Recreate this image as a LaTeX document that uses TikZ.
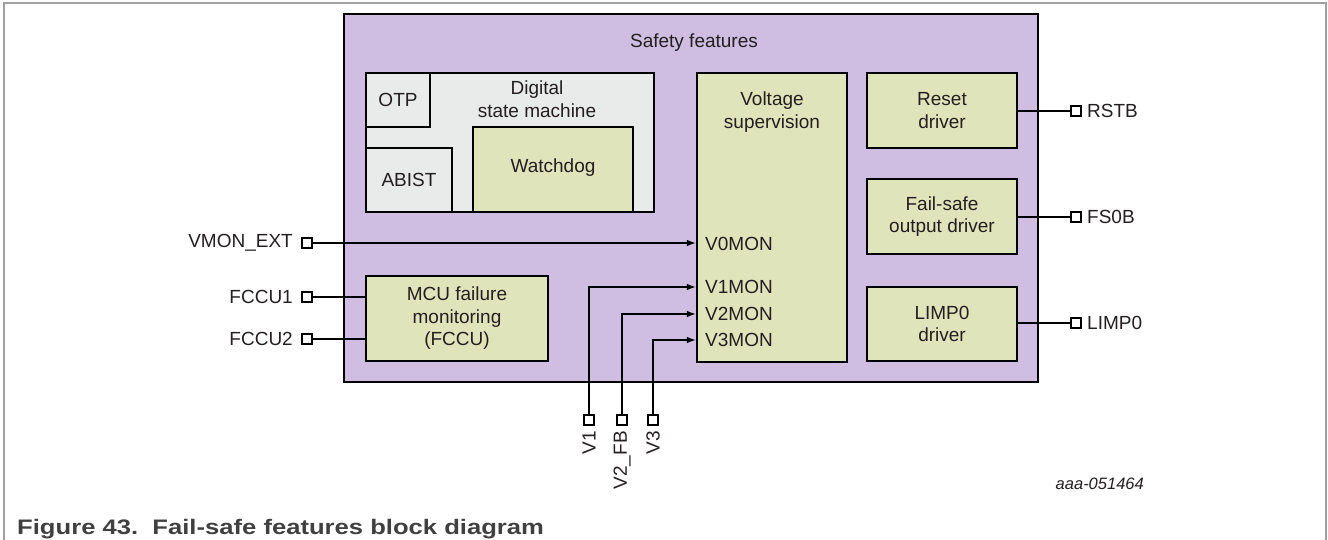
\documentclass[tikz,border=0pt]{standalone}
\usepackage{fontspec}
\setmainfont{Liberation Sans}
\usetikzlibrary{arrows.meta}
\definecolor{sfpurple}{RGB}{207,190,226}
\definecolor{sfgreen}{RGB}{224,228,187}
\definecolor{sfgray}{RGB}{233,234,234}
\definecolor{sftext}{RGB}{35,31,32}
\definecolor{sfframe}{RGB}{160,160,160}
\definecolor{sfcap}{RGB}{64,64,64}
\begin{document}
\begin{tikzpicture}[x=1pt,y=-1pt,
  every node/.style={text=sftext, font=\fontsize{19}{22.5}\selectfont},
  blk/.style={draw=black, line width=2.2pt, inner sep=0pt, align=center},
  greenblk/.style={blk, fill=sfgreen},
  grayblk/.style={blk, fill=sfgray},
  pin/.style={draw=black, fill=white, line width=1.1pt, minimum size=10pt, inner sep=0pt},
  wire/.style={draw=black, line width=1.3pt},
  arr/.style={wire, -{Latex[length=9pt,width=6.5pt]}},
  lbl/.style={inner sep=0pt}
]
\useasboundingbox (0,0) rectangle (1328,540);
% outer frame
\draw[sfframe, line width=1.8pt] (4,540) -- (4,3) -- (1326,3) -- (1326,540);

% main box
\node[blk, line width=2.5pt, fill=sfpurple, minimum width=694pt, minimum height=368pt] (main) at (691,198) {};
\node[lbl] (title) at (694,43) {Safety features};

% digital state machine
\node[grayblk, minimum width=288pt, minimum height=139pt] (dsm) at (510,142.5) {};
\node[lbl, align=center] (dsmtxt) at (537,99) {Digital\\state machine};
\node[grayblk, minimum width=64pt, minimum height=54pt] (otp) at (398,100) {OTP};
\node[grayblk, minimum width=86pt, minimum height=64pt] (abist) at (409,180) {ABIST};
\node[greenblk, minimum width=160pt, minimum height=85pt, text depth=0pt] (wd) at (553,169.5) {};
\node[lbl] (wdtxt) at (553,168) {Watchdog};

% voltage supervision
\node[greenblk, minimum width=150pt, minimum height=289pt] (vs) at (772,217.5) {};
\node[lbl, align=center] (vstxt) at (772,112) {Voltage\\supervision};
\node[lbl, anchor=west] (v0) at (705,244) {V0MON};
\node[lbl, anchor=west] (v1) at (705,287) {V1MON};
\node[lbl, anchor=west] (v2) at (705,314) {V2MON};
\node[lbl, anchor=west] (v3) at (705,340) {V3MON};

% drivers
\node[greenblk, minimum width=150pt, minimum height=75pt] (rst) at (942,110.5) {Reset\\driver};
\node[greenblk, minimum width=150pt, minimum height=75pt] (fs) at (942,216.5) {Fail-safe\\output driver};
\node[greenblk, minimum width=150pt, minimum height=74pt] (limp) at (942,324) {LIMP0\\driver};

% MCU failure monitoring
\node[greenblk, minimum width=182pt, minimum height=85pt] (mcu) at (457,318.5) {MCU failure\\monitoring\\(FCCU)};

% left pins
\node[pin] (pvmon) at (307,243) {};
\node[pin] (pf1) at (307,297) {};
\node[pin] (pf2) at (307,339) {};
\node[lbl, anchor=east] (lvmon) at (293,243) {VMON\_EXT};
\node[lbl, anchor=east] (lf1) at (293,297) {FCCU1};
\node[lbl, anchor=east] (lf2) at (293,339) {FCCU2};

% right pins
\node[pin] (prst) at (1076,111) {};
\node[pin] (pfs) at (1076,217) {};
\node[pin] (plimp) at (1076,323) {};
\node[lbl, anchor=west] (lrst) at (1087,111) {RSTB};
\node[lbl, anchor=west] (lfs) at (1087,217) {FS0B};
\node[lbl, anchor=west] (llimp) at (1087,323) {LIMP0};

% bottom pins
\node[pin] (pv1) at (589,420) {};
\node[pin] (pv2) at (622,420) {};
\node[pin] (pv3) at (653,420) {};
\node[lbl, anchor=east, rotate=90] (lv1) at (589,431) {V1};
\node[lbl, anchor=east, rotate=90] (lv2) at (622,431) {V2\_FB};
\node[lbl, anchor=east, rotate=90] (lv3) at (653,431) {V3};

% connectors
\draw[arr] (pvmon.east) -- (pvmon.east -| vs.west);
\draw[arr] (pv1.north) |- (v1.west -| vs.west);
\draw[arr] (pv2.north) |- (v2.west -| vs.west);
\draw[arr] (pv3.north) |- (v3.west -| vs.west);
\draw[wire] (pf1.east) -- (pf1.east -| mcu.west);
\draw[wire] (pf2.east) -- (pf2.east -| mcu.west);
\draw[wire] (prst.west -| rst.east) -- (prst.west);
\draw[wire] (pfs.west -| fs.east) -- (pfs.west);
\draw[wire] (plimp.west -| limp.east) -- (plimp.west);

% document id and caption
\node[lbl, anchor=east, font=\fontsize{16.5}{19}\itshape] (docid) at (1144,484) {aaa-051464};
\node[lbl, anchor=base west, text=sfcap, font=\fontsize{21}{24}\bfseries] (caption) at (17,534) {\scalebox{1.22}[1]{Figure 43.\ \ Fail-safe features block diagram}};
\end{tikzpicture}
\end{document}
